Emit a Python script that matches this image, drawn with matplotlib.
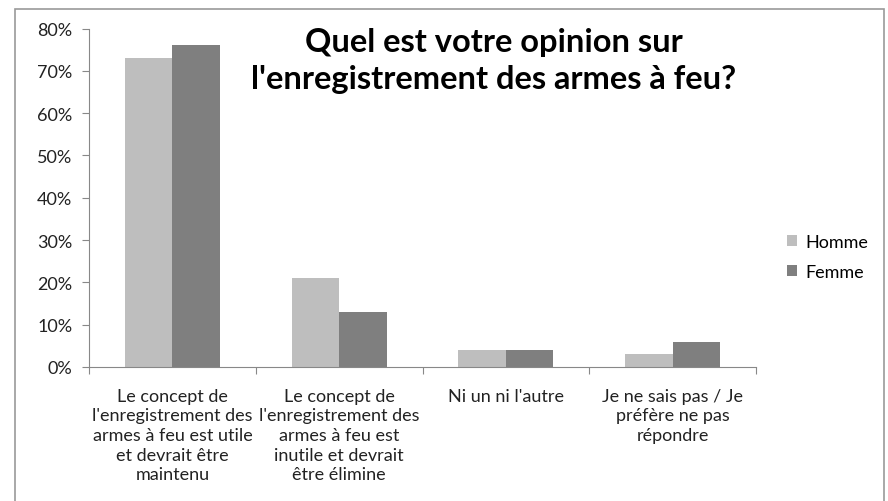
import matplotlib
matplotlib.use('Agg')
import matplotlib.pyplot as plt
from matplotlib.patches import Rectangle
from matplotlib.ticker import FuncFormatter
import numpy as np

plt.rcParams['font.family'] = ['Lato', 'DejaVu Sans']

# data
categories = [
    "Le concept de\nl'enregistrement des\narmes à feu est utile\net devrait être\nmaintenu",
    "Le concept de\nl'enregistrement des\narmes à feu est\ninutile et devrait\nêtre élimine",
    "Ni un ni l'autre",
    "Je ne sais pas / Je\npréfère ne pas\nrépondre",
]
series = ['Homme', 'Femme']
homme = [0.73, 0.21, 0.04, 0.03]
femme = [0.76, 0.13, 0.04, 0.06]
colors = ['#bebebe', '#7f7f7f']
title = "Quel est votre opinion sur\nl'enregistrement des armes à feu?"

fig = plt.figure(figsize=(8.88, 5.02), dpi=100)
ax = fig.add_axes([89/888, 1-368/502, (756-89)/888, (368-29.5)/502])

x = np.arange(len(categories))
w = 0.285
ax.bar(x - w/2, homme, w, color=colors[0], label=series[0])
ax.bar(x + w/2, femme, w, color=colors[1], label=series[1])

ax.set_xlim(-0.5, len(categories) - 0.5)
ax.set_ylim(0, 0.8)
ax.set_yticks(np.arange(0, 0.81, 0.1))
ax.yaxis.set_major_formatter(FuncFormatter(lambda v, p: '%d%%' % round(v*100)))

ax.set_xticks(np.arange(-0.5, len(categories), 1.0))
ax.set_xticklabels([])
ax.set_xticks(x, minor=True)
ax.set_xticklabels(categories, minor=True, fontsize=13, color='#222222', linespacing=1.28)
ax.tick_params(axis='x', which='minor', length=0, pad=15)
ax.tick_params(axis='x', which='major', length=5, color='#888888')
ax.tick_params(axis='y', length=5, color='#888888', labelsize=13, labelcolor='#222222', pad=7)

for s in ['top', 'right']:
    ax.spines[s].set_visible(False)
for s in ['left', 'bottom']:
    ax.spines[s].set_color('#888888')

fig.text(494/888, 1-61/502, title, ha='center', va='center', fontsize=23.5,
         fontweight='bold', linespacing=1.35)

ax.legend(loc='center left', bbox_to_anchor=(1 + (787-756)/667, 0.325), frameon=False,
          fontsize=13, handlelength=0.55, handleheight=0.55, handletextpad=0.45,
          labelspacing=0.8, borderpad=0, borderaxespad=0)

# outer chart frame
fig.add_artist(Rectangle((15/888, -0.05), (884-15)/888, 1.05 - 10/502,
                         transform=fig.transFigure, fill=False,
                         edgecolor='#999999', lw=1.2, clip_on=False))

fig.savefig('out.png', dpi=100)
